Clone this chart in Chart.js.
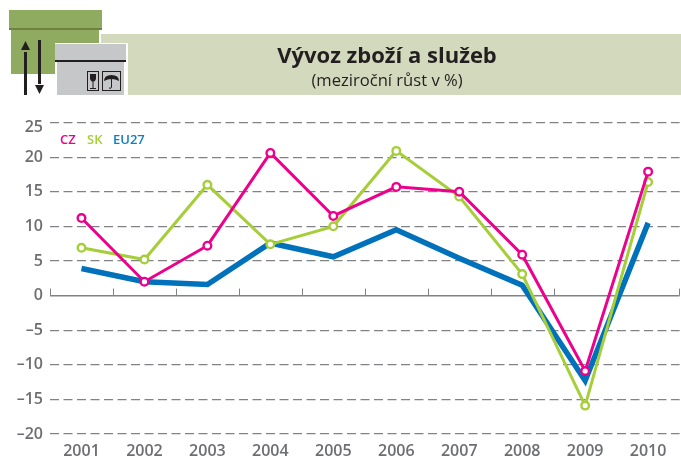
<!DOCTYPE html>
<html>
<head>
<meta charset="utf-8">
<script src="https://cdn.jsdelivr.net/npm/chart.js@4"></script>
<style>
  html, body { margin: 0; padding: 0; background: #fff; }
  #wrap { position: relative; width: 681px; height: 457px; overflow: hidden; font-family: "Open Sans", sans-serif; }
  #chart { position: absolute; left: 0; top: 0; }
  #band { position: absolute; left: 101px; top: 34px; width: 580px; height: 61px; background: #d2d9bc; }
  #title { position: absolute; left: 101px; width: 572px; top: 39px; text-align: center; font-size: 22px; font-weight: 700; color: #231f20; }
  #sub { position: absolute; left: 101px; width: 572px; top: 68px; text-align: center; font-size: 16.6px; color: #231f20; }
  #icon { position: absolute; left: 0; top: 0; }
  .key { position: absolute; top: 130px; font-size: 13px; font-weight: 600; }
</style>
</head>
<body>
<div id="wrap">
  <canvas id="chart" width="686" height="457"></canvas>
  <div id="band"></div>
  <svg id="icon" width="135" height="100">
    <rect x="11" y="28" width="88" height="46" fill="#8fab5f"/>
    <rect x="9" y="10" width="93" height="20" fill="#8fab5f"/>
    <rect x="9" y="28" width="93" height="2" fill="#6f8240"/>
    <rect x="55" y="43" width="73" height="53" fill="#fff"/>
    <rect x="55" y="44" width="71" height="17" fill="#c6c7c9"/>
    <rect x="57" y="61" width="67" height="34" fill="#c6c7c9"/>
    <rect x="55" y="60" width="71" height="2" fill="#231f20"/>
    <rect x="24" y="52" width="3" height="43" fill="#231f20"/>
    <path d="M21 50h9l-4.500-9z" fill="#231f20"/>
    <rect x="38" y="40" width="3" height="44" fill="#231f20"/>
    <path d="M35 85h9l-4.500 9z" fill="#231f20"/>
    <rect x="87.500" y="71.500" width="11" height="19" fill="none" stroke="#231f20"/>
    <path d="M90 74h6v5q-1 3-3 3t-3-3zM92.500 82h1v6h-1zM90 88h6v1h-6z" fill="#231f20"/>
    <rect x="102.500" y="71.500" width="18" height="19" fill="none" stroke="#231f20"/>
    <path d="M104 81q0-6 7.500-6t7.500 6q-3.500-2-7.500-2t-7.500 2z" fill="#231f20"/>
    <path d="M111.500 79v8q0 2-2.500 1" fill="none" stroke="#231f20"/>
  </svg>
  <div id="title">Vývoz zboží a služeb</div>
  <div id="sub">(meziroční růst v %)</div>
  <div class="key" style="left:60px;color:#ec008c">CZ</div>
  <div class="key" style="left:87px;color:#a6ce39">SK</div>
  <div class="key" style="left:113px;color:#0f7fc0">EU27</div>
</div>
<script>
const years = ['2001', '2002', '2003', '2004', '2005', '2006', '2007', '2008', '2009', '2010'];
const cz = [11.2, 2, 7.2, 20.6, 11.5, 15.7, 15, 5.9, -10.9, 17.9];
const sk = [6.9, 5.2, 16, 7.4, 10, 20.9, 14.3, 3.1, -15.9, 16.4];
const eu27 = [3.9, 2, 1.6, 7.6, 5.6, 9.5, 5.4, 1.5, -12.3, 10.5];

const axisGrey = '#6d6e71';

// tick marks standing up from the zero line, between the categories
const zeroTicks = {
  id: 'zeroTicks',
  beforeDatasetsDraw(chart) {
    const { ctx, scales: { x, y } } = chart;
    const y0 = y.getPixelForValue(0);
    const half = (x.getPixelForValue(1) - x.getPixelForValue(0)) / 2;
    ctx.save();
    ctx.strokeStyle = '#808285';
    ctx.lineWidth = 1;
    years.forEach((yr, i) => {
      const px = Math.round(x.getPixelForValue(i) - half) + 0.5;
      ctx.beginPath();
      ctx.moveTo(px, y0);
      ctx.lineTo(px, y0 - 7);
      ctx.stroke();
    });
    const last = Math.round(x.getPixelForValue(years.length - 1) + half) - 0.5;
    ctx.beginPath();
    ctx.moveTo(last, y0);
    ctx.lineTo(last, y0 - 7);
    ctx.stroke();
    ctx.restore();
  }
};

new Chart(document.getElementById('chart').getContext('2d'), {
  type: 'line',
  data: {
    labels: years,
    datasets: [
      { label: 'CZ', data: cz, borderColor: '#ec008c', borderWidth: 3, pointRadius: 3.8, pointBorderWidth: 2.4, pointBackgroundColor: '#fff', pointBorderColor: '#ec008c', tension: 0 },
      { label: 'SK', data: sk, borderColor: '#a6ce39', borderWidth: 3, pointRadius: 3.8, pointBorderWidth: 2.4, pointBackgroundColor: '#fff', pointBorderColor: '#a6ce39', tension: 0 },
      { label: 'EU27', data: eu27, borderColor: '#0072bc', borderWidth: 5.5, pointRadius: 0, tension: 0 }
    ]
  },
  options: {
    responsive: false,
    animation: false,
    layout: { padding: { left: 0, right: 2, top: 122.5, bottom: 0 } },
    plugins: { legend: { display: false }, tooltip: { enabled: false } },
    scales: {
      x: {
        offset: true,
        afterFit(s) {
          s.height = 23;
        },
        grid: { display: false },
        border: { display: false },
        ticks: { color: axisGrey, font: { family: 'Open Sans', size: 16, weight: 600 }, maxRotation: 0, padding: 0 }
      },
      y: {
        min: -20,
        max: 25,
        afterFit(s) {
          s.width = 50;
        },
        grid: {
          color: '#808285',
          lineWidth: ctx => (ctx.tick && ctx.tick.value === 0 ? 1.5 : 1.2),
          drawTicks: false
        },
        border: {
          display: false,
          dash: ctx => (ctx.tick && ctx.tick.value === 0 ? [] : [9, 4.500])
        },
        ticks: {
          stepSize: 5,
          padding: 7,
          color: axisGrey,
          // the top label sits a little under its gridline in the reference
          font: ctx => ({ family: 'Open Sans', size: 16, weight: 600, lineHeight: ctx.tick && ctx.tick.value === 25 ? '10px' : 1.2 }),
          callback: v => (v === 25 ? ['', '25'] : String(v).replace('-', '–'))
        }
      }
    }
  },
  plugins: [zeroTicks]
});
</script>
</body>
</html>
